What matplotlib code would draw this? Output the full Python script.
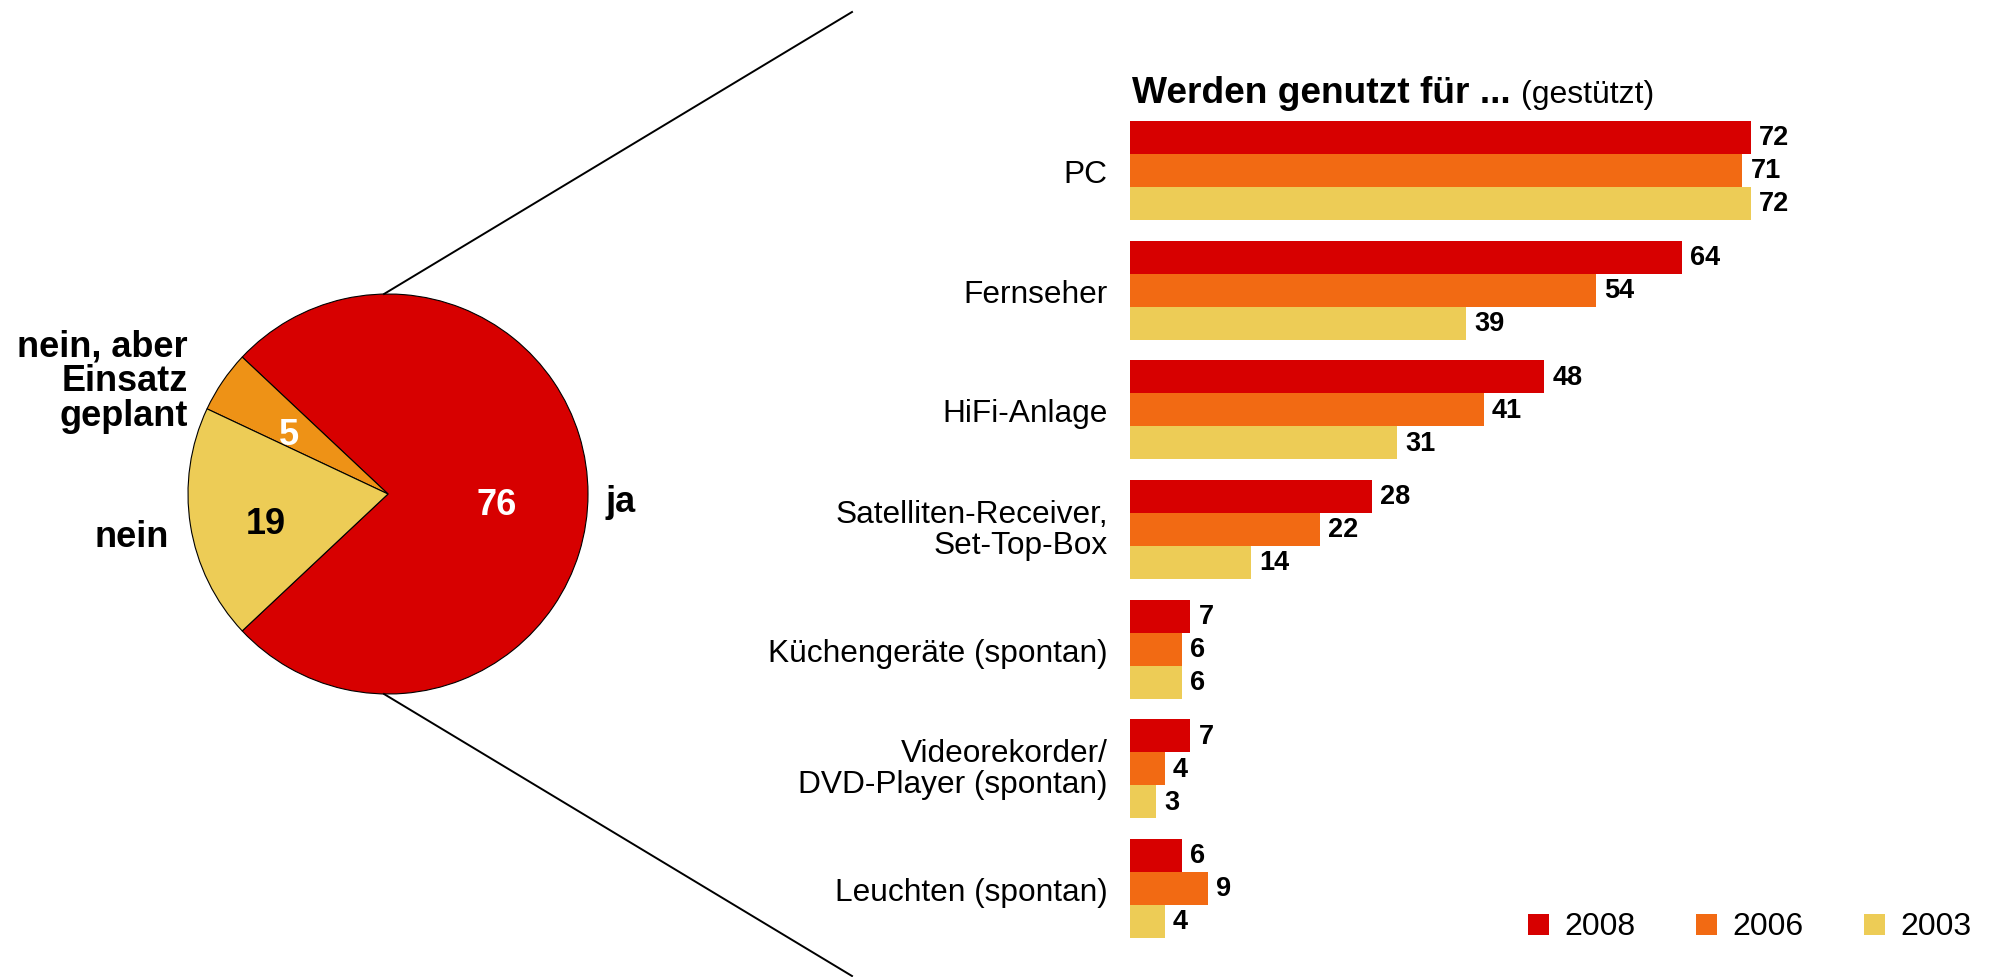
import matplotlib
matplotlib.use("Agg")
import matplotlib.pyplot as plt
import numpy as np
from matplotlib.lines import Line2D
from matplotlib.patches import Rectangle
from matplotlib.transforms import ScaledTranslation

plt.rcParams['font.family'] = ['Liberation Sans', 'DejaVu Sans']

# ---------------- data ----------------
pie_labels = ["ja", "nein, aber\nEinsatz\ngeplant", "nein"]
pie_values = [76, 5, 19]
pie_colors = ["#D70000", "#EE9216", "#EDCC56"]

categories = ["PC", "Fernseher", "HiFi-Anlage", "Satelliten-Receiver,\nSet-Top-Box",
              "Küchengeräte (spontan)", "Videorekorder/\nDVD-Player (spontan)",
              "Leuchten (spontan)"]
years = ["2008", "2006", "2003"]
v2008 = [72, 64, 48, 28, 7, 7, 6]
v2006 = [71, 54, 41, 22, 6, 4, 9]
v2003 = [72, 39, 31, 14, 6, 3, 4]
bar_colors = ["#D70000", "#F26A13", "#EDCC56"]

title_bold = "Werden genutzt für ..."
title_rest = "(gestützt)"

# ---------------- layout ----------------
W, H = 1995, 978
DPI = 100
fig = plt.figure(figsize=(W / DPI, H / DPI), dpi=DPI)


def fx(px):
    return px / W


def fy(py):
    return 1 - py / H


# ---------------- pie ----------------
cx, cy, R = 388, 495, 200
pax = fig.add_axes([fx(cx - R), fy(cy + R), 2 * R / W, 2 * R / H])
total = sum(pie_values)
wedges, _ = pax.pie(pie_values, colors=pie_colors,
                    startangle=-pie_values[0] / total * 180, counterclock=True,
                    radius=1, wedgeprops=dict(edgecolor='black', linewidth=0.8))
pax.set_xlim(-1, 1)
pax.set_ylim(-1, 1)
pax.set_aspect('equal')
pax.axis('off')

# value labels inside the wedges (radius factor, vertical nudge)
inner_r = [0.545, 0.60, 0.62]
inner_dy = [-0.05, -0.04, -0.05]
inner_col = ['white', 'white', 'black']
for w, v, r, dy, c in zip(wedges, pie_values, inner_r, inner_dy, inner_col):
    th = np.deg2rad((w.theta1 + w.theta2) / 2)
    pax.text(r * np.cos(th), r * np.sin(th) + dy, str(v), ha='center', va='center',
             fontsize=26, fontweight='bold', color=c)

# outer labels
pax.text(1.165, -0.085, pie_labels[0], ha='center', va='baseline',
         fontsize=26, fontweight='bold')
pax.text(-1.0, 0.565, pie_labels[1], ha='right', va='center',
         fontsize=26, fontweight='bold', linespacing=1.0)
pax.text(-1.095, -0.26, pie_labels[2], ha='right', va='baseline',
         fontsize=26, fontweight='bold')

# connecting lines
for sgn in (-1, 1):
    y0 = cy + sgn * R
    y1 = cy + sgn * (cy - 13)
    fig.add_artist(Line2D([fx(cx - 4), fx(852)], [fy(y0), fy(y1)],
                          transform=fig.transFigure, color='black', linewidth=1.4))

# ---------------- bars ----------------
pitch = 119.67
bax = fig.add_axes([fx(1130), fy(949.33), 862.5 / W, 837.67 / H])
y = np.arange(len(categories))
bh = 33 / pitch
for j, (vals, col) in enumerate(zip([v2008, v2006, v2003], bar_colors)):
    rects = bax.barh(y + (j - 1) * bh, vals, height=bh, color=col, linewidth=0)
    bax.bar_label(rects, padding=6, fontsize=19.5, fontweight='bold')
bax.set_xlim(0, 100)
bax.set_ylim(len(categories) - 0.5, -0.5)
bax.set_yticks(y)
bax.set_yticklabels(categories, fontsize=22.8, linespacing=1.04)
bax.tick_params(axis='y', length=0, pad=16)
bax.set_xticks([])
for s in bax.spines.values():
    s.set_visible(False)
# nudge two-line labels slightly upward
for lab in bax.get_yticklabels():
    if "\n" in lab.get_text():
        lab.set_transform(lab.get_transform() +
                          ScaledTranslation(0, 4 / DPI, fig.dpi_scale_trans))

# title
t1 = fig.text(fx(1132), fy(103), title_bold, fontsize=26.7, fontweight='bold',
              ha='left', va='baseline')
fig.canvas.draw()
bb = t1.get_window_extent()
fig.text(bb.x1 / W + 10 / W, fy(103), title_rest, fontsize=23, ha='left', va='baseline')

# legend
for k, (yr, col) in enumerate(zip(years, bar_colors)):
    x0 = 1528 + k * 168
    fig.add_artist(Rectangle((fx(x0), fy(936)), 21 / W, 21 / H,
                             transform=fig.transFigure, color=col, linewidth=0))
    fig.text(fx(x0 + 36), fy(935), yr, fontsize=23, ha='left', va='baseline')

fig.savefig('out.png', dpi=DPI)
